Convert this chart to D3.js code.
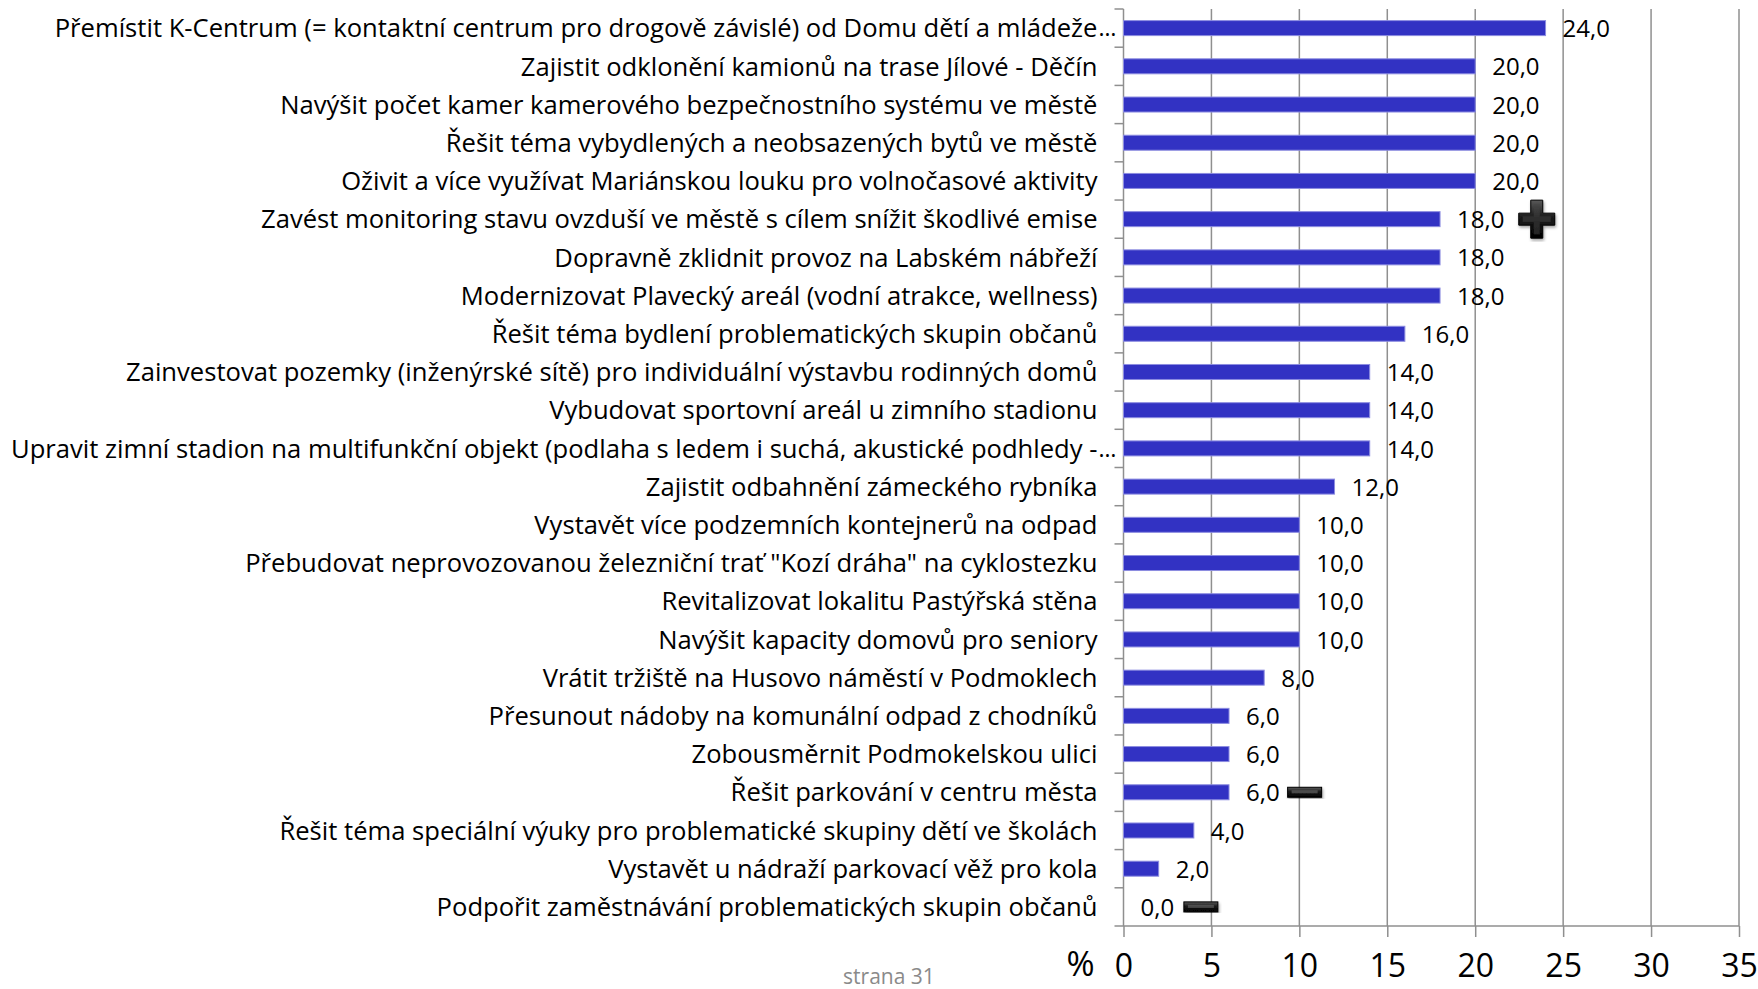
<!DOCTYPE html>
<html>
<head>
<meta charset="utf-8">
<script src="https://cdn.jsdelivr.net/npm/d3@7"></script>
<style>
  body { margin: 0; background: #fff; }
  svg text { font-family: "Open Sans", "DejaVu Sans", sans-serif; }
</style>
</head>
<body>
<div id="chart"></div>
<script>
// categories (top to bottom) and their values in %
var categories = [
  'Přemístit K-Centrum (= kontaktní centrum pro drogově závislé) od Domu dětí a mládeže',
  'Zajistit odklonění kamionů na trase Jílové - Děčín',
  'Navýšit počet kamer kamerového bezpečnostního systému ve městě',
  'Řešit téma vybydlených a neobsazených bytů ve městě',
  'Oživit a více využívat Mariánskou louku pro volnočasové aktivity',
  'Zavést monitoring stavu ovzduší ve městě s cílem snížit škodlivé emise',
  'Dopravně zklidnit provoz na Labském nábřeží',
  'Modernizovat Plavecký areál (vodní atrakce, wellness)',
  'Řešit téma bydlení problematických skupin občanů',
  'Zainvestovat pozemky (inženýrské sítě) pro individuální výstavbu rodinných domů',
  'Vybudovat sportovní areál u zimního stadionu',
  'Upravit zimní stadion na multifunkční objekt (podlaha s ledem i suchá, akustické podhledy -',
  'Zajistit odbahnění zámeckého rybníka',
  'Vystavět více podzemních kontejnerů na odpad',
  'Přebudovat neprovozovanou železniční trať "Kozí dráha" na cyklostezku',
  'Revitalizovat lokalitu Pastýřská stěna',
  'Navýšit kapacity domovů pro seniory',
  'Vrátit tržiště na Husovo náměstí v Podmoklech',
  'Přesunout nádoby na komunální odpad z chodníků',
  'Zobousměrnit Podmokelskou ulici',
  'Řešit parkování v centru města',
  'Řešit téma speciální výuky pro problematické skupiny dětí ve školách',
  'Vystavět u nádraží parkovací věž pro kola',
  'Podpořit zaměstnávání problematických skupin občanů'
];
var truncated = [0, 11]; // labels cut off with an ellipsis
var values = [24, 20, 20, 20, 20, 18, 18, 18, 16, 14, 14, 14, 12, 10, 10, 10, 10, 8, 6, 6, 6, 4, 2, 0];
var xTicks = [0, 5, 10, 15, 20, 25, 30, 35];
// hand-drawn marks on the slide: [row, value position, type]
var marks = [[5, 23.5, 'plus'], [20, 10.3, 'minus'], [23, 4.4, 'minus']];

var width = 1758, height = 989;
var margin = {top: 9, right: 19, bottom: 63, left: 1123.5};

var svg = d3.select('#chart').append('svg')
  .attr('width', width).attr('height', height);

var x = d3.scaleLinear().domain([0, 35]).range([margin.left, width - margin.right]);
var y = d3.scaleBand().domain(d3.range(categories.length))
  .range([margin.top, height - margin.bottom]);

var gridColor = '#8f8f8f';

// vertical gridlines
svg.append('g').selectAll('line')
  .data(xTicks.slice(1))
  .enter().append('line')
  .attr('x1', d => x(d)).attr('x2', d => x(d))
  .attr('y1', margin.top).attr('y2', height - margin.bottom)
  .attr('stroke', gridColor).attr('stroke-width', 1.5);

// x axis
var xAxis = d3.axisBottom(x).tickValues(xTicks).tickSize(11).tickPadding(15)
  .tickFormat(d3.format('d'));
var gx = svg.append('g')
  .attr('transform', 'translate(0,' + (height - margin.bottom) + ')')
  .call(xAxis);
gx.select('.domain').remove();
gx.append('line')
  .attr('x1', margin.left - 9).attr('x2', x(35))
  .attr('stroke', gridColor).attr('stroke-width', 1.5);
gx.selectAll('.tick line').attr('stroke', gridColor).attr('stroke-width', 1.5);
gx.selectAll('.tick text')
  .attr('fill', '#000')
  .style('font-size', '32px')
  .attr('dy', '0.78em');

// y axis line and category ticks
var gy = svg.append('g');
gy.append('line')
  .attr('x1', margin.left).attr('x2', margin.left)
  .attr('y1', margin.top).attr('y2', height - margin.bottom)
  .attr('stroke', gridColor).attr('stroke-width', 1.5);
gy.selectAll('.cat-tick')
  .data(d3.range(categories.length))
  .enter().append('line')
  .attr('class', 'cat-tick')
  .attr('x1', margin.left - 9).attr('x2', margin.left)
  .attr('y1', d => y(d)).attr('y2', d => y(d))
  .attr('stroke', gridColor).attr('stroke-width', 1.5);

// category labels
var labelSize = '25.6px';
var labels = svg.append('g').selectAll('g')
  .data(categories)
  .enter().append('g')
  .attr('transform', (d, i) => 'translate(' + (margin.left - 26) + ',' + (y(i) + y.bandwidth() / 2) + ')');
labels.append('text')
  .attr('text-anchor', 'end')
  .attr('dy', '0.36em')
  .style('font-size', labelSize)
  .attr('fill', '#000')
  .text(d => d);
labels.filter((d, i) => truncated.indexOf(i) >= 0)
  .append('text')
  .attr('x', 1)
  .attr('dy', '0.36em')
  .style('font-size', '23px')
  .attr('fill', '#000')
  .text('…');

// bars
var barH = 15;
svg.append('g').selectAll('rect')
  .data(values)
  .enter().append('rect')
  .attr('x', x(0))
  .attr('y', (d, i) => y(i) + (y.bandwidth() - barH) / 2)
  .attr('width', d => x(d) - x(0))
  .attr('height', barH)
  .attr('fill', '#3232c3')
  .attr('stroke', '#8c8ce0')
  .attr('stroke-width', 1);

// value labels
svg.append('g').selectAll('text')
  .data(values)
  .enter().append('text')
  .attr('x', d => x(d) + 17)
  .attr('y', (d, i) => y(i) + y.bandwidth() / 2)
  .attr('dy', '0.38em')
  .style('font-size', '24px')
  .attr('fill', '#000')
  .text(d => d3.format('.1f')(d).replace('.', ','));

// % sign and page number
svg.append('text')
  .attr('x', margin.left - 29).attr('y', 976)
  .attr('text-anchor', 'end')
  .style('font-size', '34px')
  .attr('fill', '#000')
  .text('%');
svg.append('text')
  .attr('x', 889).attr('y', 984)
  .attr('text-anchor', 'middle')
  .style('font-size', '21px')
  .attr('fill', '#8a8a8a')
  .text('strana 31');

// plus / minus marks
var defs = svg.append('defs');
var grad = defs.append('linearGradient').attr('id', 'markGrad')
  .attr('x1', 0).attr('y1', 0).attr('x2', 0).attr('y2', 1);
grad.append('stop').attr('offset', '0%').attr('stop-color', '#5a5a5a');
grad.append('stop').attr('offset', '45%').attr('stop-color', '#1a1a1a');
grad.append('stop').attr('offset', '100%').attr('stop-color', '#000');
defs.append('filter').attr('id', 'markShadow')
  .append('feDropShadow').attr('dx', 1).attr('dy', 2).attr('stdDeviation', 1.5)
  .attr('flood-color', '#000').attr('flood-opacity', 0.35);

var markG = svg.append('g').selectAll('g')
  .data(marks)
  .enter().append('g')
  .attr('transform', d => 'translate(' + x(d[1]) + ',' + (y(d[0]) + y.bandwidth() / 2) + ')')
  .attr('filter', 'url(#markShadow)');
markG.filter(d => d[2] === 'plus').append('path')
  .attr('d', 'M-6,-19 L6,-19 L6,-6 L18,-6 L18,6 L6,6 L6,19 L-6,19 L-6,6 L-18,6 L-18,-6 L-6,-6 Z')
  .attr('fill', 'url(#markGrad)')
  .attr('stroke', '#000').attr('stroke-width', 1);
markG.filter(d => d[2] === 'plus').append('path')
  .attr('d', 'M-3,-15 L3,-15 L3,-3 L14,-3 L14,3 L3,3 L3,15 L-3,15 L-3,3 L-14,3 L-14,-3 L-3,-3 Z')
  .attr('fill', '#444').attr('opacity', 0.5);
markG.filter(d => d[2] === 'minus').append('rect')
  .attr('x', -17).attr('y', -5).attr('width', 34).attr('height', 10)
  .attr('fill', 'url(#markGrad)')
  .attr('stroke', '#000').attr('stroke-width', 1);
markG.filter(d => d[2] === 'minus').append('rect')
  .attr('x', -13).attr('y', -2).attr('width', 26).attr('height', 3)
  .attr('fill', '#6a6a6a').attr('opacity', 0.6);
</script>
</body>
</html>
